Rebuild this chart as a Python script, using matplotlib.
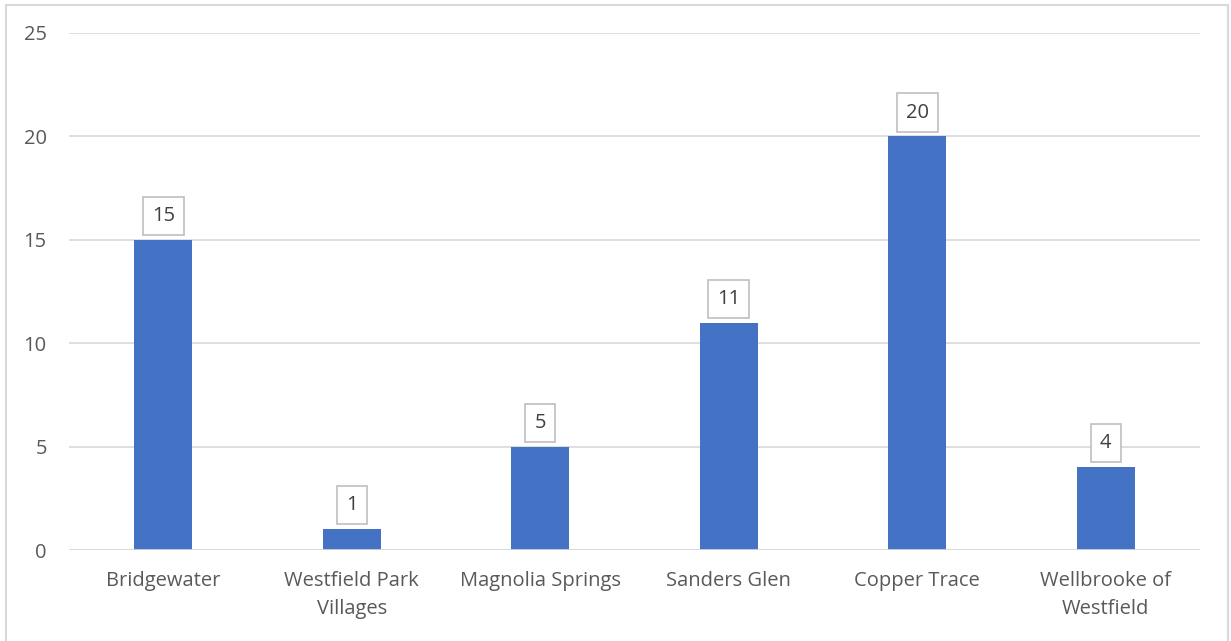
import matplotlib
matplotlib.use("Agg")
import matplotlib.pyplot as plt
from matplotlib.patches import Rectangle

categories = ["Bridgewater", "Westfield Park\nVillages", "Magnolia Springs", "Sanders Glen", "Copper Trace", "Wellbrooke of\nWestfield"]
values = [15, 1, 5, 11, 20, 4]
yticks = [0, 5, 10, 15, 20, 25]

plt.rcParams['font.family'] = ['Open Sans', 'DejaVu Sans']
W, H = 1231, 641
fig = plt.figure(figsize=(W/100, H/100), dpi=100)
fig.patch.set_facecolor('white')
ax = fig.add_axes([69/W, 1-550/H, (1200-69)/W, (550-33)/H])

x = list(range(len(categories)))
ax.bar(x, values, width=0.31, color='#4472C4', zorder=3)
ax.set_xlim(-0.5, len(categories)-0.5)
ax.set_ylim(0, 25)
ax.set_yticks(yticks)
ax.set_xticks(x)
ax.set_xticklabels(categories, fontsize=14.5, color='#595959', linespacing=1.55)
ax.set_yticklabels([str(t) for t in yticks], fontsize=14.5, color='#595959')
ax.tick_params(axis='both', length=0)
ax.tick_params(axis='y', pad=16)
ax.tick_params(axis='x', pad=15)
ax.grid(axis='y', color='#D9D9D9', linewidth=1.2, zorder=0)
for s in ax.spines.values():
    s.set_visible(False)
ax.axhline(0, color='#D9D9D9', linewidth=1.2, zorder=4)

for xi, v in zip(x, values):
    ax.annotate(str(v), (xi, v), xytext=(0, 10), textcoords='offset points',
                ha='center', va='bottom', fontsize=14.5, color='#404040',
                bbox=dict(boxstyle='square,pad=0.45', fc='white', ec='#BFBFBF', lw=1.2))

fig.patches.append(Rectangle((6/W, -0.05), (1228-6)/W, 1.05-5/H, transform=fig.transFigure,
                             fill=False, ec='#D9D9D9', lw=1.5))
fig.savefig('out.png', dpi=100)
